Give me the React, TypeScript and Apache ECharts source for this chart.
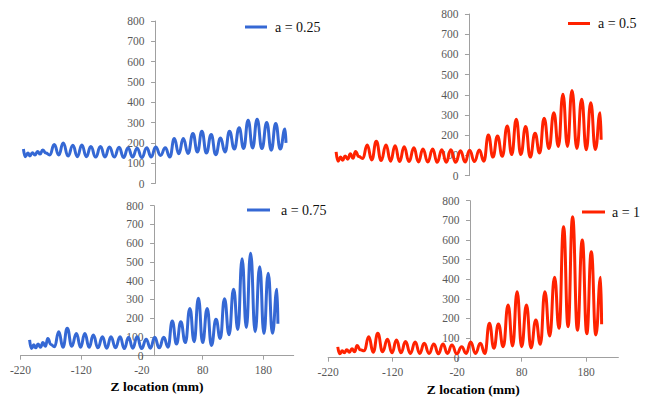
import React, { useEffect, useRef } from "react";
import * as echarts from "echarts";

// Shared Z locations (mm) of the curve's key points (start wiggles, then alternating peaks / troughs)
const zLocations = [
  -205, -202, -198, -195, -191, -187, -183, -179, -175, -170, -164,
  -157, -150, -143, -135.5, -128, -121, -114, -107, -100, -92.5, -85, -78, -71, -63.5, -56, -49,
  -42, -35, -28, -20.5, -13, -6, 1, 8.5, 16, 23, 30, 37, 44, 51.5, 59, 66, 73, 80, 87.5, 94.5,
  102, 109, 116, 123.5, 131, 138, 145, 152, 159, 166.5, 174, 181, 188, 195, 202.5,
  204,
];

const valuesA025 = [
  170, 132, 150, 136, 152, 140, 158, 145, 165, 150, 140,
  192, 140, 200, 135, 188, 132, 190, 132, 182, 130, 182, 130, 180, 130, 178, 128,
  176, 130, 174, 128, 176, 130, 180, 138, 176, 130, 221, 146, 221, 148, 246, 155, 257, 150, 241, 142,
  224, 155, 257, 170, 274, 172, 311, 175, 316, 172, 300, 164, 295, 170, 268,
  200,
];

const valuesA05 = [
  118, 72, 92, 76, 98, 82, 108, 86, 120, 95, 85,
  152, 78, 170, 75, 152, 72, 148, 70, 143, 70, 138, 68, 132, 68, 132, 66,
  128, 66, 128, 66, 124, 68, 126, 70, 127, 72, 201, 92, 196, 96, 246, 105, 279, 105, 243, 92,
  210, 112, 284, 135, 312, 145, 403, 145, 421, 135, 378, 128, 361, 130, 312,
  178,
];

const valuesA075 = [
  84, 38, 58, 42, 62, 45, 70, 50, 92, 60, 48,
  128, 45, 146, 50, 119, 45, 119, 45, 110, 42, 101, 40, 101, 42, 101, 38,
  98, 40, 101, 38, 88, 40, 98, 42, 98, 45, 185, 62, 181, 70, 252, 75, 306, 70, 252, 55,
  194, 92, 304, 112, 354, 140, 517, 150, 546, 128, 475, 118, 440, 120, 354,
  170,
];

const valuesA1 = [
  55, 20, 35, 25, 40, 28, 45, 30, 62, 40, 35,
  107, 28, 124, 30, 94, 25, 90, 25, 82, 22, 80, 22, 73, 22, 70, 20,
  70, 22, 65, 20, 56, 22, 80, 22, 73, 22, 175, 48, 172, 56, 268, 60, 336, 56, 268, 50,
  192, 68, 336, 110, 410, 150, 667, 158, 718, 140, 600, 122, 540, 116, 410,
  170,
];

const seriesNames = ["a = 0.25", "a = 0.5", "a = 0.75", "a = 1"];
const xTickValues = [-220, -120, -20, 80, 180];
const yMin = 0;
const yMax = 800;
const yStep = 100;
const xMin = -220;
const xMax = 230;
const xTitle = "Z location (mm)";

const BLUE = "#3568D4";
const RED = "#FF2200";
const FONT = "Liberation Serif";
const AXIS_COLOR = "#a0a0a0";

function toPoints(vals: number[]) {
  return zLocations.map((z, i) => [z, vals[i]]);
}

export default function App() {
  const ref = useRef<HTMLDivElement>(null);

  useEffect(() => {
    document.body.style.margin = "0";
    if (!ref.current) return;
    const chart = echarts.init(ref.current, undefined, { renderer: "svg" });

    // data grids (x range -220..230)
    const grids = [
      { left: 13.8, top: 21, width: 288.9, height: 162.5 },
      { left: 326.4, top: 14, width: 291.6, height: 161.7 },
      { left: 20.5, top: 205.7, width: 273.2, height: 150 },
      { left: 328.1, top: 200.7, width: 290.3, height: 157 },
    ];
    // x pixel where Z = 0 in each grid (vertical axis crosses there)
    const zeroX = grids.map((g) => g.left + (g.width * (0 - xMin)) / (xMax - xMin));
    const axisGrids = grids.map((g, i) => ({ left: zeroX[i], top: g.top, width: 1, height: g.height }));

    const allGrids = [...grids, ...axisGrids].map((g) => ({
      ...g,
      containLabel: false,
      outerBoundsMode: "none",
    }));

    const labelStyle = {
      fontSize: 11.5,
      color: "#595959",
      fontFamily: FONT,
      fontWeight: "normal",
    };

    const xAxes: any[] = grids.map((_, i) => {
      const bottom = i >= 2;
      return {
        gridIndex: i,
        type: "value",
        min: xMin,
        max: xMax,
        show: bottom,
        axisLine: { show: true, onZero: false, lineStyle: { color: AXIS_COLOR, width: 1 } },
        axisTick: { show: true, length: 4, customValues: xTickValues, lineStyle: { color: AXIS_COLOR } },
        axisLabel: { show: true, customValues: xTickValues, margin: 8, ...labelStyle },
        splitLine: { show: false },
        name: bottom ? xTitle : "",
        nameLocation: "middle",
        nameGap: i === 2 ? 24 : 25,
        nameTextStyle: { fontWeight: "bold", fontSize: 13.5, color: "#000", fontFamily: FONT },
      };
    });
    axisGrids.forEach((_, i) => {
      xAxes.push({ gridIndex: 4 + i, type: "value", min: 0, max: 1, show: false, splitLine: { show: false } });
    });

    const yAxes: any[] = grids.map((_, i) => ({
      gridIndex: i,
      type: "value",
      min: yMin,
      max: yMax,
      interval: yStep,
      show: false,
      splitLine: { show: false },
    }));
    axisGrids.forEach((_, i) => {
      yAxes.push({
        gridIndex: 4 + i,
        type: "value",
        min: yMin,
        max: yMax,
        interval: yStep,
        axisLine: { show: true, onZero: false, lineStyle: { color: AXIS_COLOR, width: 1 } },
        axisTick: { show: true, length: 4, lineStyle: { color: AXIS_COLOR } },
        axisLabel: { margin: 10.5, ...labelStyle },
        splitLine: { show: false },
      });
    });

    const allValues = [valuesA025, valuesA05, valuesA075, valuesA1];
    const colors = [BLUE, RED, BLUE, RED];

    const series = allValues.map((vals, i) => ({
      name: seriesNames[i],
      type: "line",
      xAxisIndex: i,
      yAxisIndex: i,
      data: toPoints(vals),
      smooth: 0.5,
      smoothMonotone: "x",
      showSymbol: false,
      symbol: "none",
      color: colors[i],
      lineStyle: { color: colors[i], width: 3 },
    }));

    const legendPos = [
      { left: 245, top: 20, w: 22, pad: 3 },
      { left: 568, top: 16.5, w: 22, pad: 3 },
      { left: 247, top: 203, w: 23, pad: 6 },
      { left: 582, top: 205, w: 23, pad: 2 },
    ];

    const legends = legendPos.map((p, i) => ({
      data: [seriesNames[i]],
      left: p.left,
      top: p.top,
      padding: 0,
      icon: "rect",
      itemWidth: p.w,
      itemHeight: 3,
      selectedMode: false,
      textStyle: { fontSize: 14, fontFamily: FONT, color: "#111", padding: [0, 0, 0, p.pad] },
    }));

    chart.setOption({
      animation: false,
      backgroundColor: "#ffffff",
      textStyle: { fontFamily: FONT },
      grid: allGrids,
      xAxis: xAxes,
      yAxis: yAxes,
      legend: legends,
      series,
    });

    return () => chart.dispose();
  }, []);

  return <div ref={ref} style={{ width: 649, height: 406 }} />;
}
